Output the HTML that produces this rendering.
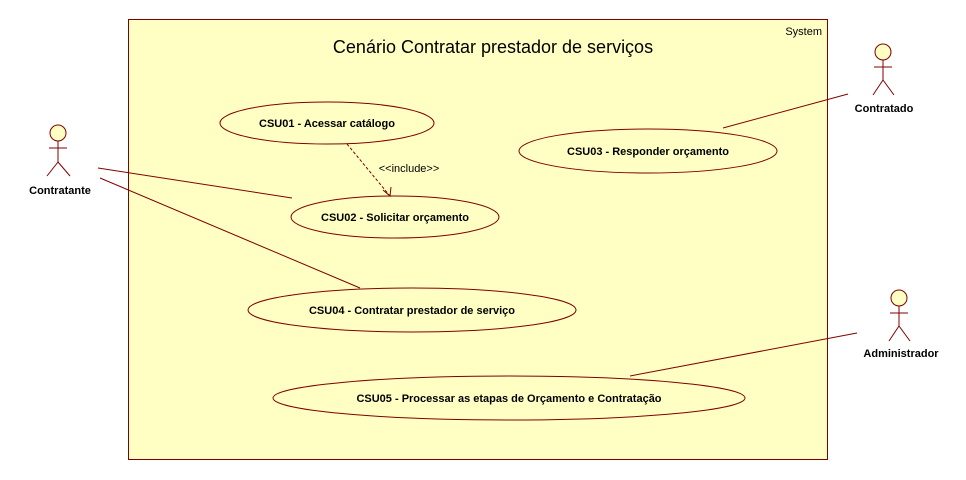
<!DOCTYPE html>
<html><head><meta charset="utf-8"><style>body{margin:0;background:#fff}svg{display:block}</style></head><body>
<svg width="966" height="480" xmlns="http://www.w3.org/2000/svg" font-family="Liberation Sans, DejaVu Sans, sans-serif">
<rect x="128.5" y="19.5" width="699" height="440" fill="#ffffc4" stroke="#800000" stroke-width="1"/>
<text x="822" y="35" font-size="11" text-anchor="end" fill="#000">System</text>
<text x="493" y="53" font-size="18" text-anchor="middle" fill="#000">Cenário Contratar prestador de serviços</text>
<g fill="#ffffc4" stroke="#800000" stroke-width="1">
<ellipse cx="327" cy="123" rx="107" ry="21"/>
<ellipse cx="648" cy="151" rx="129" ry="22"/>
<ellipse cx="395" cy="217" rx="104" ry="21"/>
<ellipse cx="412" cy="310" rx="164" ry="22"/>
<ellipse cx="509" cy="398" rx="236" ry="22"/>
</g>
<g font-size="11" font-weight="bold" text-anchor="middle" fill="#000">
<text x="327" y="127">CSU01 - Acessar catálogo</text>
<text x="648" y="155">CSU03 - Responder orçamento</text>
<text x="395" y="221">CSU02 - Solicitar orçamento</text>
<text x="412" y="314">CSU04 - Contratar prestador de serviço</text>
<text x="509" y="402">CSU05 - Processar as etapas de Orçamento e Contratação</text>
<text x="60" y="194">Contratante</text>
<text x="884" y="112">Contratado</text>
<text x="901" y="357">Administrador</text>
</g>
<g stroke="#800000" stroke-width="1" fill="none">
<line x1="98" y1="168" x2="292" y2="198"/>
<line x1="100" y1="178" x2="360" y2="288"/>
<line x1="723" y1="128" x2="848" y2="94"/>
<line x1="630" y1="376" x2="857" y2="333"/>
<line x1="347" y1="144" x2="390" y2="196" stroke-dasharray="3,2"/>
<polyline points="383,190 390,196 391,187"/>
</g>
<text x="409" y="172" font-size="11" text-anchor="middle" fill="#000">&lt;&lt;include&gt;&gt;</text>
<g fill="#ffffc4" stroke="#800000" stroke-width="1">
<circle cx="58" cy="133" r="8"/>
<path d="M58 141V162M49 148H67M58 162L47 176M58 162L70 176" fill="none"/>
<circle cx="883" cy="52" r="8"/>
<path d="M883 60V80M874 67H892M883 80L873 95M883 80L894 95" fill="none"/>
<circle cx="899" cy="298" r="8"/>
<path d="M899 306V326M890 313H908M899 326L889 341M899 326L910 341" fill="none"/>
</g>
</svg>
</body></html>
